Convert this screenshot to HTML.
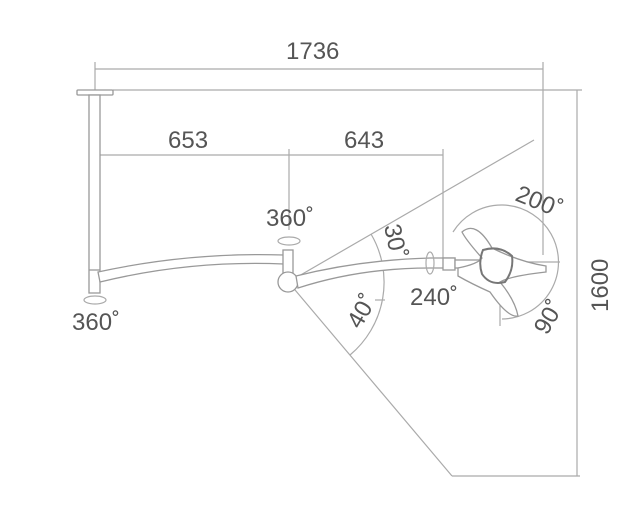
<!DOCTYPE html>
<html><head><meta charset="utf-8"><style>
html,body{margin:0;padding:0;background:#fff;}
svg{display:block;}
text{font-family:"Liberation Sans",sans-serif;fill:#555;font-size:24px;}
</style></head><body>
<svg width="629" height="522" viewBox="0 0 629 522">
<g stroke="#aaa" stroke-width="1.2" fill="none">
<!-- dimension lines -->
<line x1="95" y1="69" x2="543" y2="69"/>
<line x1="95" y1="62" x2="95" y2="91"/>
<line x1="543" y1="62" x2="543" y2="255"/>
<line x1="113" y1="90" x2="582" y2="90"/>
<line x1="577" y1="90" x2="577" y2="476"/>
<line x1="452" y1="476" x2="580" y2="476"/>
<line x1="97" y1="155" x2="443" y2="155"/>
<line x1="289" y1="149" x2="289" y2="230"/>
<line x1="443" y1="149" x2="443" y2="262"/>
<!-- angle lines -->
<line x1="292" y1="280" x2="534" y2="140"/>
<line x1="290" y1="284" x2="452" y2="476"/>
<path d="M371 234 A95 95 0 0 1 350 355"/>
<line x1="375" y1="300" x2="385" y2="300"/>
<!-- lamp rotation arc -->
<path d="M453 232 A57 57 0 1 1 502 319"/>
<line x1="500" y1="262" x2="500" y2="326"/>
<line x1="500" y1="262" x2="560" y2="262"/>
</g>
<g stroke="#999" stroke-width="1.3" fill="#fff">
<!-- ceiling plate and pole -->
<rect x="77" y="90" width="36" height="5" rx="1"/>
<rect x="89" y="95" width="11" height="198"/>
<line x1="89" y1="270" x2="100" y2="270"/>
<!-- arm -->
<path d="M98 272 Q190 252 284 255 L284 264 Q190 260 100 282 Z"/>
<!-- vertical joint stub -->
<rect x="283" y="250" width="10" height="25"/>
<circle cx="288" cy="282" r="10"/>
<!-- second arm -->
<path d="M296 276 Q360 260 430 258 L455 258 L455 268 L430 268 Q360 268 298 288 Z"/>
<rect x="443" y="258" width="12" height="12"/>
<rect x="455" y="260" width="25" height="8"/>
<!-- lamp head -->
<path d="M462 232 Q476 220 492 248 Q520 262 546 266 L546 272 Q510 276 500 282 Q515 300 518 316 Q508 318 490 292 Q472 284 458 276 L458 268 Q478 264 482 258 Q466 240 462 232 Z"/>
<path d="M483 250 Q500 245 512 256 Q514 270 505 282 Q490 286 482 274 Q478 262 483 250 Z" fill="none" stroke="#777" stroke-width="2"/>
</g>
<g stroke="#aaa" stroke-width="1.2" fill="none">
<ellipse cx="289" cy="241" rx="11" ry="4"/>
<ellipse cx="95" cy="300" rx="11" ry="4"/>
<ellipse cx="430" cy="263" rx="4" ry="11"/>
</g>
<text x="286" y="59">1736</text>
<text x="168" y="148">653</text>
<text x="344" y="148">643</text>
<text x="266" y="226">360˚</text>
<text x="72" y="330">360˚</text>
<text x="410" y="305">240˚</text>
<text transform="translate(608,312) rotate(-90)">1600</text>
<text transform="translate(514,200) rotate(22)">200˚</text>
<text transform="translate(384,226) rotate(78)">30˚</text>
<text transform="translate(360,330) rotate(-60)">40˚</text>
<text transform="translate(547,336) rotate(-60)">90˚</text>
</svg>
</body></html>
